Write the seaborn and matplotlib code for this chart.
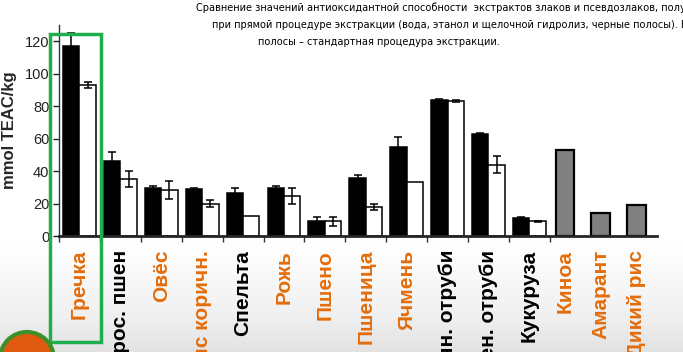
import numpy as np
import pandas as pd
import matplotlib
matplotlib.use("Agg")
import matplotlib.pyplot as plt
import seaborn as sns
from matplotlib import font_manager
from matplotlib.patches import Rectangle, Circle

# Verdier lest av bildet (mmol TEAC/kg)
groups = ["Гречка", "Прос. пшен", "Овёс", "Рис коричн.", "Спельта", "Рожь", "Пшено",
          "Пшеница", "Ячмень", "Овсян. отруби", "Пшен. отруби", "Кукуруза"]
direct = [117, 46, 29.3, 29, 26.5, 29.3, 9, 36, 55, 83.7, 62.8, 11]
direct_err = [8, 6, 1.5, 0.5, 3, 1.7, 2.8, 1.6, 6, 1, 0.5, 0.5]
standard = [93, 35, 28.3, 20, 12.5, 24.6, 9, 18, 33, 83, 44, 9]
standard_err = [2, 5, 5.5, 2, 0, 4.7, 3, 2, 0, 0.5, 5, 0.5]
pseudo = ["Киноа", "Амарант", "Дикий рис"]
pseudo_vals = [53, 14, 19.3]
orange = {"Гречка", "Овёс", "Рис коричн.", "Рожь", "Пшено", "Пшеница", "Ячмень",
          "Киноа", "Амарант", "Дикий рис"}
title_lines = [
    "Сравнение значений антиоксидантной способности  экстрактов злаков и псевдозлаков, получ",
    "при прямой процедуре экстракции (вода, этанол и щелочной гидролиз, черные полосы). Б",
    "полосы – стандартная процедура экстракции.",
]

sns.set_style("ticks")
plt.rcParams["font.family"] = ["Liberation Sans", "DejaVu Sans"]

# smal skrift til tittelen hvis den finnes
fonts = font_manager.fontManager.ttflist
if any(f.name == "Liberation Sans Narrow" for f in fonts):
    title_font = dict(family=["Liberation Sans Narrow", "DejaVu Sans"], fontsize=9.0)
elif any(f.name == "DejaVu Sans" and f.stretch == "condensed" for f in fonts):
    title_font = dict(family=["DejaVu Sans"], fontstretch="condensed", fontsize=7.85)
else:
    title_font = dict(family=["Liberation Sans", "DejaVu Sans"], fontsize=8.0)

W, H = 683, 352
fig = plt.figure(figsize=(W / 100, H / 100), dpi=100)

# bakgrunn med svak gradient nederst
bg = fig.add_axes([0, 0, 1, 1], zorder=-5)
grad = np.linspace(0, 1, 200) ** 1.2
bg.imshow(grad[:, None], extent=[0, W, H, 238], cmap="Greys", vmin=0, vmax=5,
          aspect="auto")
bg.set_xlim(0, W)
bg.set_ylim(H, 0)
bg.axis("off")

ax = fig.add_axes([59 / W, 1 - 236 / H, (657 - 59) / W, (236 - 25) / H])
ax.patch.set_alpha(0)

df = pd.DataFrame({
    "gruppe": groups * 2,
    "metode": ["direkte"] * len(groups) + ["standard"] * len(groups),
    "verdi": direct + standard,
})
sns.barplot(data=df, x="gruppe", y="verdi", hue="metode", order=groups,
            palette={"direkte": "black", "standard": "white"}, saturation=1,
            edgecolor="black", linewidth=1.1, width=0.8, errorbar=None,
            legend=False, ax=ax)

idx = np.arange(len(groups))
d_err = np.array(direct_err)
s_err = np.array(standard_err)
m = d_err > 0
ax.errorbar(idx[m] - 0.2, np.array(direct)[m], yerr=d_err[m], fmt="none",
            ecolor="black", elinewidth=1.1, capsize=3, capthick=1.1)
m = s_err > 0
ax.errorbar(idx[m] + 0.2, np.array(standard)[m], yerr=s_err[m], fmt="none",
            ecolor="black", elinewidth=1.1, capsize=3, capthick=1.1)

pseudo_pos = len(groups) - 0.13 + np.arange(len(pseudo)) * 0.875
ax.bar(pseudo_pos, pseudo_vals, width=0.46, color="#808080", edgecolor="black",
       linewidth=1.6)

ax.set_xlim(-0.5, -0.5 + 598 / 40.9)
ax.set_ylim(0, 130)
ax.set_yticks(range(0, 121, 20))
ax.tick_params(axis="y", labelsize=10.5, length=4, width=1, pad=3, colors="#222222")

ax.set_xticks(np.arange(len(groups) + 1) - 0.5, [""] * (len(groups) + 1))
ax.tick_params(axis="x", which="major", length=4, width=1, color="#333333")
lab_pos = list(idx) + list(pseudo_pos)
labels = groups + pseudo
ax.set_xticks(lab_pos, labels, minor=True)
ax.tick_params(axis="x", which="minor", length=0, pad=10, labelsize=15,
               labelrotation=90)
for t in ax.get_xticklabels(minor=True):
    t.set_fontweight("bold")
    t.set_verticalalignment("top")
    t.set_color("#e46c0a" if t.get_text() in orange else "black")

ax.set_xlabel("")
ax.set_ylabel("mmol TEAC/kg", fontsize=12, fontweight="bold")
ax.yaxis.set_label_coords(-42 / 598, 0.5)
sns.despine(ax=ax)
ax.spines["bottom"].set_linewidth(2)
ax.spines["left"].set_linewidth(1)
ax.spines["left"].set_color("#333333")

# overlegg: tittel, grønn ramme, logo
ov = fig.add_axes([0, 0, 1, 1], zorder=5)
ov.set_xlim(0, W)
ov.set_ylim(H, 0)
ov.axis("off")
for y, x, line in zip([8, 25, 42], [196, 212, 258], title_lines):
    ov.text(x, y, line, color="black", va="center", ha="left",
            fontweight="normal", **title_font)
ov.add_patch(Rectangle((50, 34), 51, 308, fill=False, edgecolor="#1fae4b", linewidth=2.5))
ov.add_patch(Circle((27, 359), 27, facecolor="#e05a10", edgecolor="#3f8f2a", linewidth=3))

fig.savefig("out.png", dpi=100)
